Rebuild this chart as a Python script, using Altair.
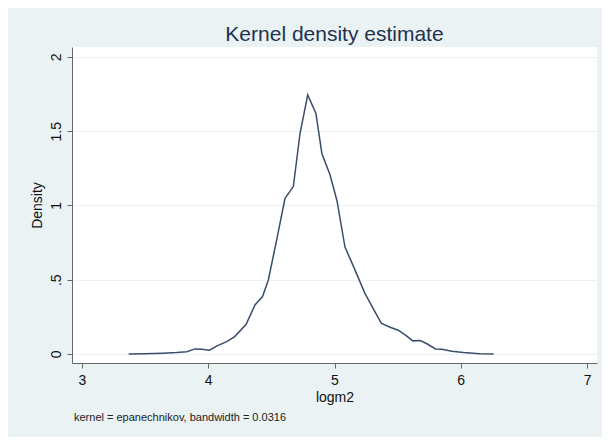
import altair as alt
import pandas as pd

# Kernel density curve
logm2 = [3.37, 3.50, 3.64, 3.75, 3.83, 3.895, 3.95, 4.01, 4.07, 4.146, 4.21, 4.30,
         4.37, 4.43, 4.476, 4.542, 4.608, 4.674, 4.727, 4.788, 4.853, 4.90, 4.965,
         5.02, 5.083, 5.15, 5.24, 5.31, 5.37, 5.44, 5.505, 5.56, 5.62, 5.68, 5.735,
         5.80, 5.85, 5.93, 6.02, 6.15, 6.26]
density = [0.000, 0.002, 0.005, 0.009, 0.015, 0.034, 0.031, 0.025, 0.054, 0.083, 0.117, 0.20,
           0.33, 0.386, 0.498, 0.768, 1.048, 1.127, 1.486, 1.744, 1.62, 1.35, 1.205,
           1.03, 0.72, 0.59, 0.41, 0.30, 0.207, 0.18, 0.16, 0.128, 0.088, 0.09, 0.067,
           0.034, 0.031, 0.018, 0.009, 0.002, 0.000]

x_ticks = [3, 4, 5, 6, 7]
y_ticks = [0, 0.5, 1, 1.5, 2]
title_text = "Kernel density estimate"
x_title = "logm2"
y_title = "Density"
note_text = ["kernel = epanechnikov, bandwidth = 0.0316"]

df = pd.DataFrame({"logm2": logm2, "density": density})
note_df = pd.DataFrame({"note": note_text})

FONT = "Liberation Sans"

line = alt.Chart(df).mark_line(color="#3a4e6b", strokeWidth=1.5).encode(
    x=alt.X("logm2:Q",
            scale=alt.Scale(domain=[2.921, 7.079], nice=False, zero=False),
            axis=alt.Axis(values=x_ticks, title=x_title, grid=False,
                          labelFontSize=14, labelFont=FONT, labelColor="#111",
                          labelPadding=5, tickSize=5, tickColor="#666",
                          domainColor="#666", labelFlush=False,
                          titleFont=FONT, titleFontSize=14, titleFontWeight="normal",
                          titleColor="#111", titleBaseline="alphabetic", titleY=38)),
    y=alt.Y("density:Q",
            scale=alt.Scale(domain=[-0.061, 2.067], nice=False, zero=False),
            axis=alt.Axis(values=y_ticks, title=y_title, grid=True,
                          gridColor="#eaf2f3", gridWidth=1.2,
                          labelExpr="datum.value == 0.5 ? '.5' : format(datum.value, '~g')",
                          labelAngle=270, labelFontSize=14, labelFont=FONT,
                          labelColor="#111", labelPadding=4, tickSize=5,
                          tickColor="#666", domainColor="#666", labelFlush=False,
                          titleFont=FONT, titleFontSize=14, titleFontWeight="normal",
                          titleColor="#111", titleAngle=270, titleBaseline="alphabetic",
                          titleX=-31, titleY=158)),
)

note = alt.Chart(note_df).mark_text(
    align="left", baseline="middle", fontSize=11, font=FONT, color="#222"
).encode(x=alt.value(2), y=alt.value(371), text="note:N")

chart = alt.layer(line, note).properties(
    width=525,
    height=316,
    title=alt.Title(title_text, fontSize=21, font=FONT, fontWeight="normal",
                    color="#22334f", anchor="middle", offset=2),
    background="#eaf2f3",
    autosize=alt.AutoSizeParams(type="none"),
    padding={"left": 64, "top": 39, "right": 5, "bottom": 74},
).configure_view(fill="white", stroke=None)

chart.save("out.html", embed_options={"renderer": "svg", "actions": False})
